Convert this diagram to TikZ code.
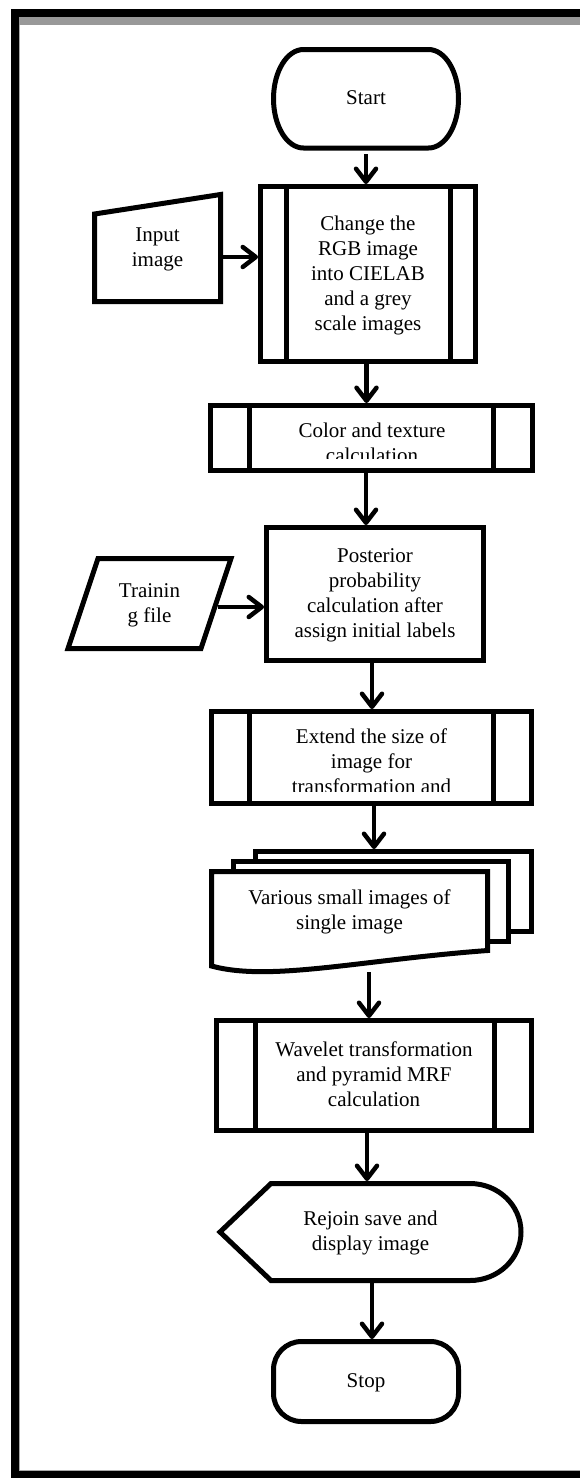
\documentclass[tikz,border=0pt]{standalone}
\usepackage{fontspec}
\setmainfont{Liberation Serif}
\usetikzlibrary{arrows.meta}
\pgfdeclarelayer{bg}
\pgfsetlayers{bg,main}
\newcommand\mystrut{\rule[-6.5pt]{0pt}{25pt}}
\definecolor{bandgray}{HTML}{999999}
\definecolor{edgegray}{HTML}{AAAAAA}
\begin{document}
\begin{tikzpicture}[x=1pt,y=-1pt,
  shp/.style={line width=5pt, inner sep=0pt, outer sep=0pt, align=center, font=\fontsize{21}{25}\selectfont},
  box/.style={shp, draw},
  outline/.style={line width=5pt},
  arr/.style={line width=4.5pt, -{Straight Barb[length=13pt,width=20pt,round]}, shorten >=2.5pt}]
\useasboundingbox (0,0) rectangle (580,1478);
% frame
\fill[black] (11,9) rectangle (19,1478);
\fill[black] (11,9) rectangle (580,17);
\fill[black] (11,1471) rectangle (580,1478);
\fill[bandgray] (19,17) rectangle (580,25);
\fill[edgegray] (19,25) rectangle (20,1471);
\fill[edgegray] (19,1470) rectangle (580,1471);

% Start
\node[shp, minimum width=185pt, minimum height=98.5pt] (start) at (366,98.75) {\mystrut Start};
\draw[outline] ([xshift=30pt]start.north west) -- ([xshift=-30pt]start.north east)
  arc[start angle=90,end angle=-90,x radius=30pt,y radius=49.25pt]
  -- ([xshift=30pt]start.south west)
  arc[start angle=270,end angle=90,x radius=30pt,y radius=49.25pt] -- cycle;

% Box 1
\node[box, minimum width=215pt, minimum height=175pt] (box1) at (368,274)
  {\mystrut Change the\\\mystrut RGB image\\\mystrut into CIELAB\\\mystrut and a grey\\\mystrut scale images};
\draw[outline] ([xshift=25.5pt]box1.north west) -- ([xshift=25.5pt]box1.south west)
  ([xshift=-25pt]box1.north east) -- ([xshift=-25pt]box1.south east);

% Input image
\node[shp, minimum width=126pt, minimum height=107pt] (input) at (157.5,248) {\mystrut Input\\\mystrut image};
\draw[outline] (input.south west) -- ([yshift=-19.5pt]input.north west) -- (input.north east) -- (input.south east) -- cycle;

% Box 2
\node[box, minimum width=322pt, minimum height=65pt] (box2) at (371.5,438) {};
\draw[outline] ([xshift=39pt]box2.north west) -- ([xshift=39pt]box2.south west)
  ([xshift=-39pt]box2.north east) -- ([xshift=-39pt]box2.south east);
\begin{scope}
\clip ([xshift=41.5pt,yshift=-2.5pt]box2.north west) rectangle ([xshift=-41.5pt,yshift=12.5pt]box2.south east);
\node[shp] (box2txt) at (372,443.5) {\mystrut Color and texture\\\mystrut calculation};
\end{scope}

% Posterior
\node[box, minimum width=217pt, minimum height=133pt] (post) at (375,594)
  {\mystrut Posterior\\\mystrut probability\\\mystrut calculation after\\\mystrut assign initial labels};

% Training file
\node[shp, minimum width=163pt, minimum height=90pt] (train) at (149.5,603.5) {\mystrut Trainin\\\mystrut g file};
\draw[outline] ([xshift=30pt]train.north west) -- (train.north east) -- ([xshift=-30pt]train.south east) -- (train.south west) -- cycle;

% Extend
\node[box, minimum width=320pt, minimum height=92pt] (ext) at (371.5,757.5) {};
\draw[outline] ([xshift=38pt]ext.north west) -- ([xshift=38pt]ext.south west)
  ([xshift=-38pt]ext.north east) -- ([xshift=-38pt]ext.south east);
\begin{scope}
\clip ([xshift=40.5pt,yshift=-2.5pt]ext.north west) rectangle ([xshift=-40.5pt,yshift=12.5pt]ext.south east);
\node[shp] (exttxt) at (371.5,762) {\mystrut Extend the size of\\\mystrut image for\\\mystrut transformation and};
\end{scope}

% Multi-document
\node[shp, minimum width=276pt, minimum height=79pt] (docs) at (349.5,911) {\mystrut Various small images of\\\mystrut single image};
\begin{pgfonlayer}{bg}
\draw[outline, fill=white] ([xshift=44pt,yshift=20pt]docs.north west) rectangle ([xshift=44pt,yshift=19pt]docs.south east);
\draw[outline, fill=white] ([xshift=22pt,yshift=10pt]docs.north west) rectangle ([xshift=21pt,yshift=9pt]docs.south east);
\draw[outline, fill=white] ([yshift=-15.5pt]docs.south west) -- (docs.north west) -- (docs.north east) -- (docs.south east)
  .. controls ([xshift=-127.5pt,yshift=-9.5pt]docs.south east) and ([xshift=58.5pt,yshift=-31.5pt]docs.south west) .. ([yshift=-15.5pt]docs.south west) -- cycle;
\end{pgfonlayer}

% Wavelet
\node[box, minimum width=315pt, minimum height=110pt] (wave) at (374,1075.5)
  {\mystrut Wavelet transformation\\\mystrut and pyramid MRF\\\mystrut calculation};
\draw[outline] ([xshift=39pt]wave.north west) -- ([xshift=39pt]wave.south west)
  ([xshift=-37pt]wave.north east) -- ([xshift=-37pt]wave.south east);

% Rejoin (display)
\node[shp, minimum width=301pt, minimum height=97pt] (rejoin) at (370.5,1232) {\mystrut Rejoin save and\\\mystrut display image};
\draw[outline] (rejoin.west) -- ([xshift=51pt]rejoin.north west) -- ([xshift=-51pt]rejoin.north east)
  arc[start angle=90,end angle=-90,x radius=51pt,y radius=48.5pt]
  -- ([xshift=51pt]rejoin.south west) -- cycle;

% Stop
\node[box, rounded corners=28pt, minimum width=185pt, minimum height=80pt] (stop) at (366,1381.5) {\mystrut Stop};

% arrows
\draw[arr, shorten <=6pt] (start.south) -- ([xshift=-2pt]box1.north);
\draw[arr] ([yshift=-9pt]input.east) -- ([yshift=17pt]box1.west);
\draw[arr] ([xshift=-1.5pt]box1.south) -- ([xshift=-5pt]box2.north);
\draw[arr] ([xshift=-5.5pt]box2.south) -- ([xshift=-9pt]post.north);
\draw[arr] ([xshift=-13pt,yshift=-3.5pt]train.east) -- ([yshift=-13pt]post.west);
\draw[arr] ([xshift=-3pt]post.south) -- ([xshift=0.5pt]ext.north);
\draw[arr] ([xshift=2.5pt]ext.south) -- ([xshift=24.5pt,yshift=20pt]docs.north);
\draw[arr] ([xshift=19.5pt,yshift=-21.5pt]docs.south) -- ([xshift=-5pt]wave.north);
\draw[arr] ([xshift=-7pt]wave.south) -- ([xshift=-3.5pt]rejoin.north);
\draw[arr] ([xshift=1.5pt]rejoin.south) -- ([xshift=6pt]stop.north);
\end{tikzpicture}
\end{document}
